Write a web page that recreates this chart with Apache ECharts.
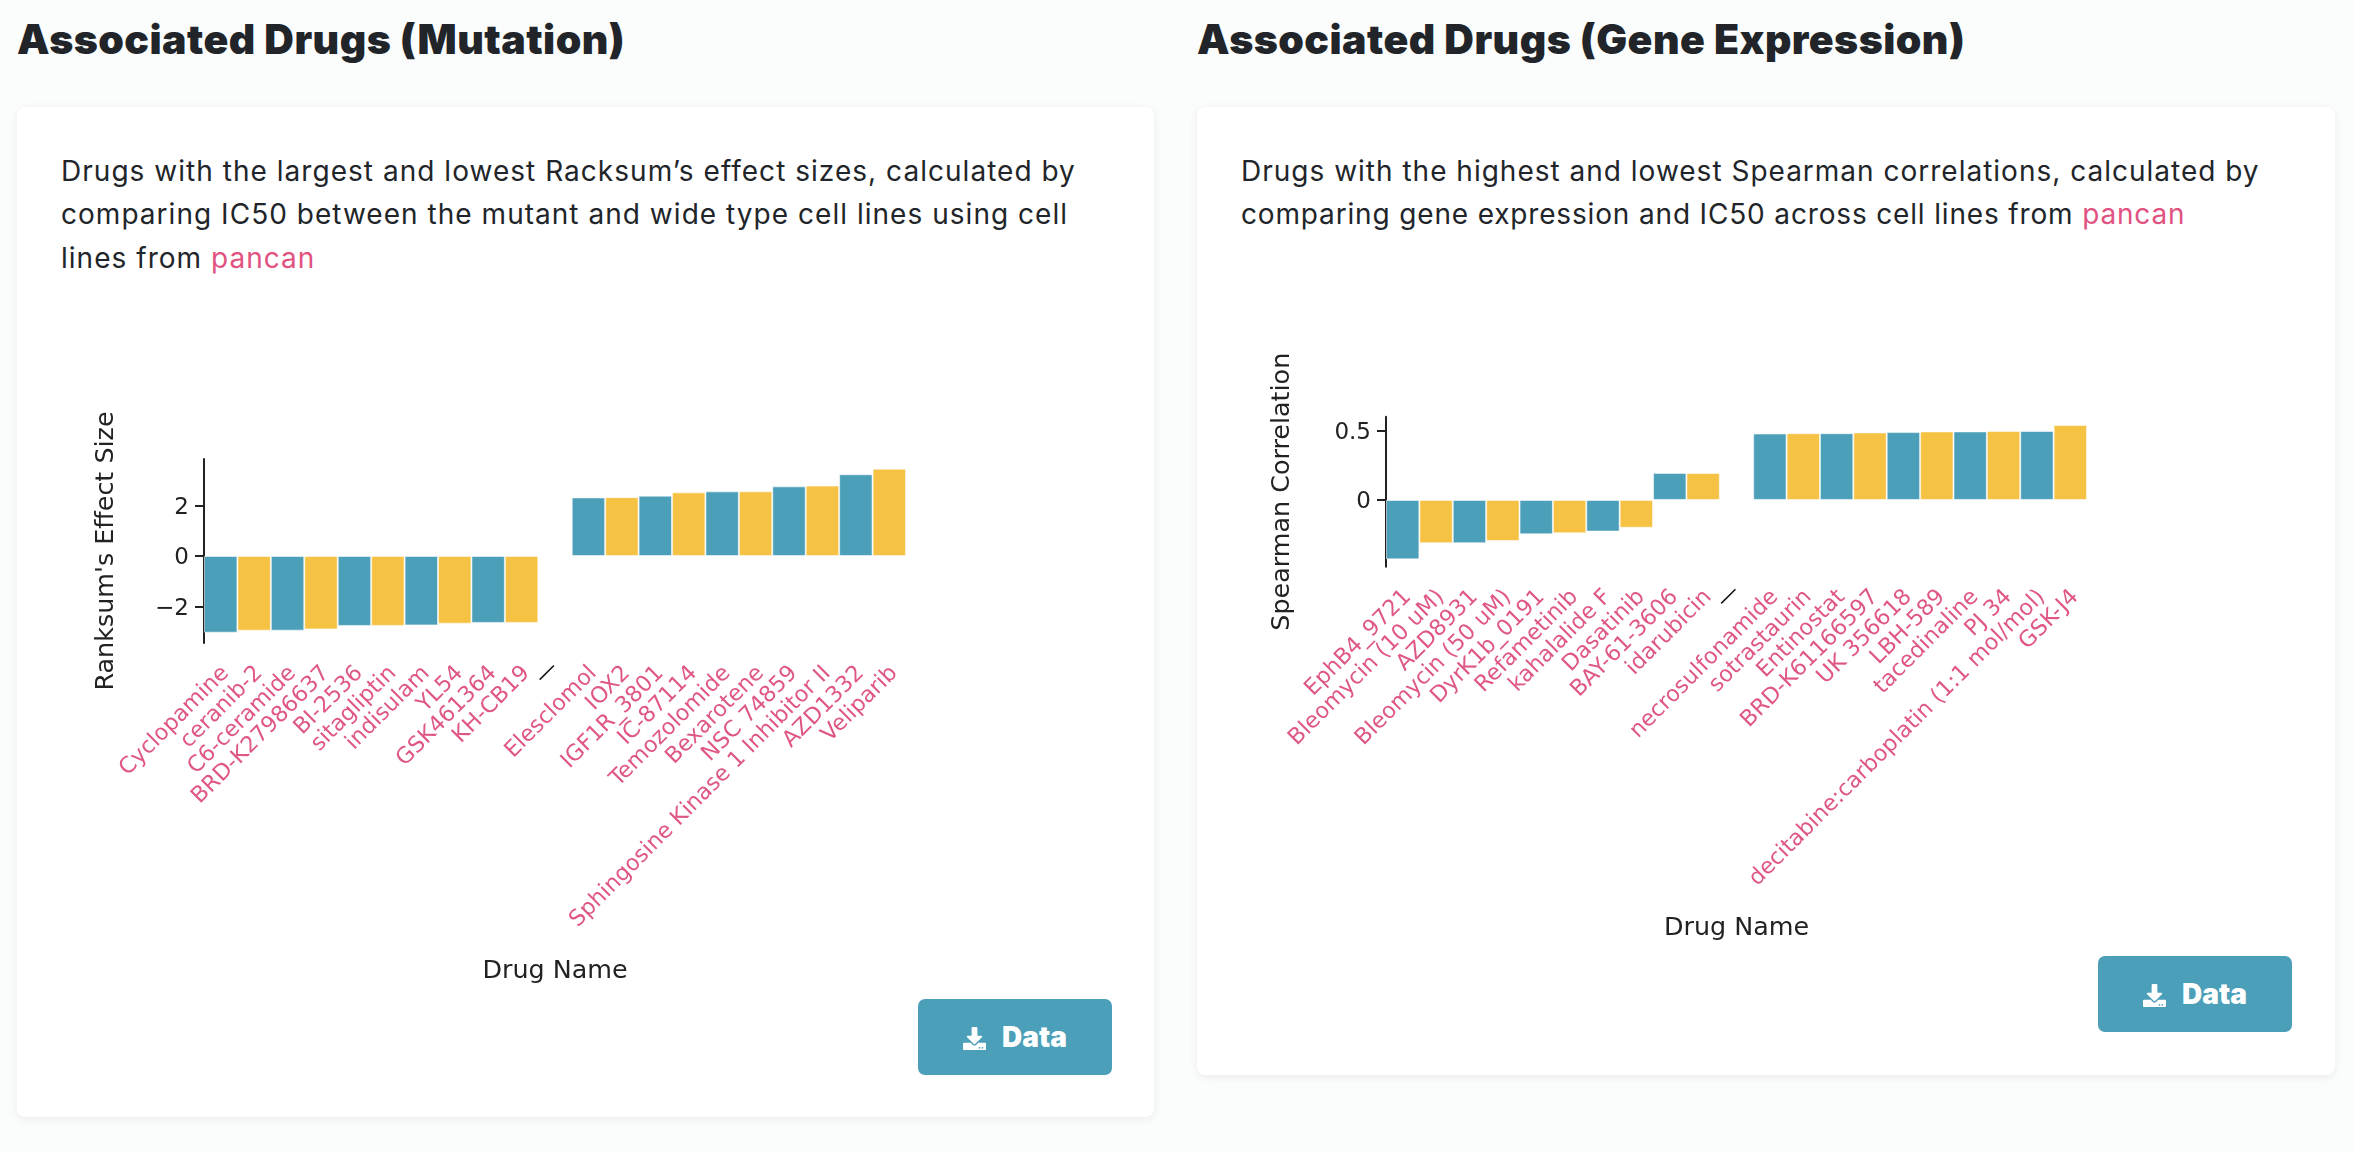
<!DOCTYPE html>
<html><head><meta charset="utf-8">
<script src="https://cdn.jsdelivr.net/npm/echarts@6/dist/echarts.min.js"></script>
<style>
html,body{margin:0;padding:0;background:#fbfcfc;width:2354px;height:1152px;overflow:hidden;font-family:Inter,sans-serif;color:#212529}
.h{position:absolute;white-space:nowrap;font-weight:900;font-size:41px;letter-spacing:.45px;line-height:46px;top:16px}
.card{position:absolute;background:#fff;border-radius:8px;box-shadow:0 2px 10px rgba(0,0,0,.07);top:107px}
.p{position:absolute;white-space:nowrap;font-size:28px;letter-spacing:1px;line-height:43.3px;top:150px;font-weight:400}
.p a{color:#e0527f;text-decoration:none}
.btn{position:absolute;background:#4c9fb8;border-radius:7px;width:193.5px;height:76px;color:#fff;font-weight:900;font-size:28px}
.btn svg{position:absolute;left:45px;top:27.5px;width:23px;height:23px;fill:#fff}
.btn span{position:absolute;left:84px;top:22px;line-height:32px}
#chart{position:absolute;left:0;top:0;width:2354px;height:1152px}
</style></head>
<body>
<div class="h" style="left:17px">Associated Drugs (Mutation)</div>
<div class="h" style="left:1197px">Associated Drugs (Gene Expression)</div>
<div class="card" style="left:17px;width:1137px;height:1010px"></div>
<div class="card" style="left:1197px;width:1138px;height:968px"></div>
<div class="p" style="left:61px;letter-spacing:1.03px">Drugs with the largest and lowest Racksum’s effect sizes, calculated by<br>comparing IC50 between the mutant and wide type cell lines using cell<br>lines from <a>pancan</a></div>
<div class="p" style="left:1241px">Drugs with the highest and lowest Spearman correlations, calculated by<br><span style="letter-spacing:.84px">comparing gene expression and IC50 across cell lines from <a>pancan</a></span></div>
<div class="btn" style="left:918px;top:999px"><svg viewBox="0 0 512 512"><path d="M216 0h80c13.3 0 24 10.7 24 24v168h87.7c17.8 0 26.7 21.5 14.1 34.1L269.7 378.3c-7.5 7.5-19.8 7.5-27.3 0L90.1 226.1c-12.6-12.6-3.7-34.1 14.1-34.1H192V24c0-13.3 10.7-24 24-24zm296 376v112c0 13.3-10.7 24-24 24H24c-13.3 0-24-10.7-24-24V376c0-13.3 10.7-24 24-24h146.7l49 49c20.1 20.1 52.5 20.1 72.6 0l49-49H488c13.3 0 24 10.7 24 24zm-124 88c0-11-9-20-20-20s-20 9-20 20 9 20 20 20 20-9 20-20zm64 0c0-11-9-20-20-20s-20 9-20 20 9 20 20 20 20-9 20-20z"/></svg><span>Data</span></div>
<div class="btn" style="left:2098px;top:956px"><svg viewBox="0 0 512 512"><path d="M216 0h80c13.3 0 24 10.7 24 24v168h87.7c17.8 0 26.7 21.5 14.1 34.1L269.7 378.3c-7.5 7.5-19.8 7.5-27.3 0L90.1 226.1c-12.6-12.6-3.7-34.1 14.1-34.1H192V24c0-13.3 10.7-24 24-24zm296 376v112c0 13.3-10.7 24-24 24H24c-13.3 0-24-10.7-24-24V376c0-13.3 10.7-24 24-24h146.7l49 49c20.1 20.1 52.5 20.1 72.6 0l49-49H488c13.3 0 24 10.7 24 24zm-124 88c0-11-9-20-20-20s-20 9-20 20 9 20 20 20 20-9 20-20zm64 0c0-11-9-20-20-20s-20 9-20 20 9 20 20 20 20-9 20-20z"/></svg><span>Data</span></div>
<div id="chart"></div>
<script>
const mutationDrugs = ["Cyclopamine","ceranib-2","C6-ceramide","BRD-K27986637","BI-2536","sitagliptin","indisulam","YL54","GSK461364","KH-CB19","—","Elesclomol","IOX2","IGF1R_3801","IC-87114","Temozolomide","Bexarotene","NSC 74859","Sphingosine Kinase 1 Inhibitor II","AZD1332","Veliparib"];
const mutationValues = [-3.05,-2.97,-2.97,-2.92,-2.78,-2.78,-2.76,-2.69,-2.66,-2.66,null,2.33,2.34,2.40,2.53,2.57,2.57,2.77,2.80,3.25,3.47];
const expressionDrugs = ["EphB4_9721","Bleomycin (10 uM)","AZD8931","Bleomycin (50 uM)","DyrK1b_0191","Refametinib","kahalalide F","Dasatinib","BAY-61-3606","idarubicin","—","necrosulfonamide","sotrastaurin","Entinostat","BRD-K61166597","UK 356618","LBH-589","tacedinaline","PJ 34","decitabine:carboplatin (1:1 mol/mol)","GSK-J4"];
const expressionValues = [-0.428,-0.312,-0.312,-0.296,-0.248,-0.24,-0.228,-0.2,0.195,0.195,null,0.479,0.481,0.481,0.487,0.489,0.494,0.494,0.497,0.497,0.541];
const mutationTicks = [-2,0,2];
const expressionTicks = [0,0.5];
const TEAL="#4c9fb8",YELLOW="#f6c244",PINK="#df5883",INK="#222";
const FONT="DejaVu Sans";
function xAxis(i,names,gap){return {gridIndex:i,type:"category",data:names.map(n=>n==="—"?{value:n,textStyle:{color:"#111",lineHeight:28}}:n),
  name:"Drug Name",nameLocation:"middle",nameGap:gap,nameTextStyle:{fontFamily:FONT,fontSize:25.4,color:INK},
  axisLine:{show:false,onZero:false},axisTick:{show:false},
  axisLabel:{interval:0,rotate:45,color:PINK,fontFamily:FONT,fontSize:22.3,margin:22,verticalAlign:"top",lineHeight:14,hideOverlap:false}};}
function yAxis(i,name,min,max,ticks,gap){return {gridIndex:i,type:"value",min,max,name,nameLocation:"middle",nameGap:gap,
  nameTextStyle:{fontFamily:FONT,fontSize:25.4,color:INK},splitLine:{show:false},
  axisLine:{show:true,lineStyle:{color:INK,width:2}},
  axisTick:{show:true,length:9,lineStyle:{color:INK,width:2},customValues:ticks},
  axisLabel:{color:INK,fontFamily:FONT,fontSize:23,margin:15,verticalAlign:"top",lineHeight:5,customValues:ticks,formatter:v=>String(v).replace("-","\u2212")}};}
function bars(i,vals){const gapAt=vals.indexOf(null);return {type:"bar",xAxisIndex:i,yAxisIndex:i,data:vals,barWidth:"100%",silent:true,animation:false,
  itemStyle:{color:p=>{const k=p.dataIndex>gapAt?p.dataIndex-gapAt-1:p.dataIndex;return k%2?YELLOW:TEAL;},borderColor:"rgba(255,255,255,.55)",borderWidth:1}};}
const chart=echarts.init(document.getElementById("chart"));
chart.setOption({animation:false,backgroundColor:"transparent",
 grid:[{left:204,width:702,top:459,height:184},{left:1386,width:701,top:416.7,height:150}],
 xAxis:[xAxis(0,mutationDrugs,316),xAxis(1,expressionDrugs,349.5)],
 yAxis:[yAxis(0,"Ranksum's Effect Size",-3.46,3.857,mutationTicks,85),yAxis(1,"Spearman Correlation",-0.481,0.6,expressionTicks,91.5)],
 series:[bars(0,mutationValues),bars(1,expressionValues)]});
</script>
</body></html>
